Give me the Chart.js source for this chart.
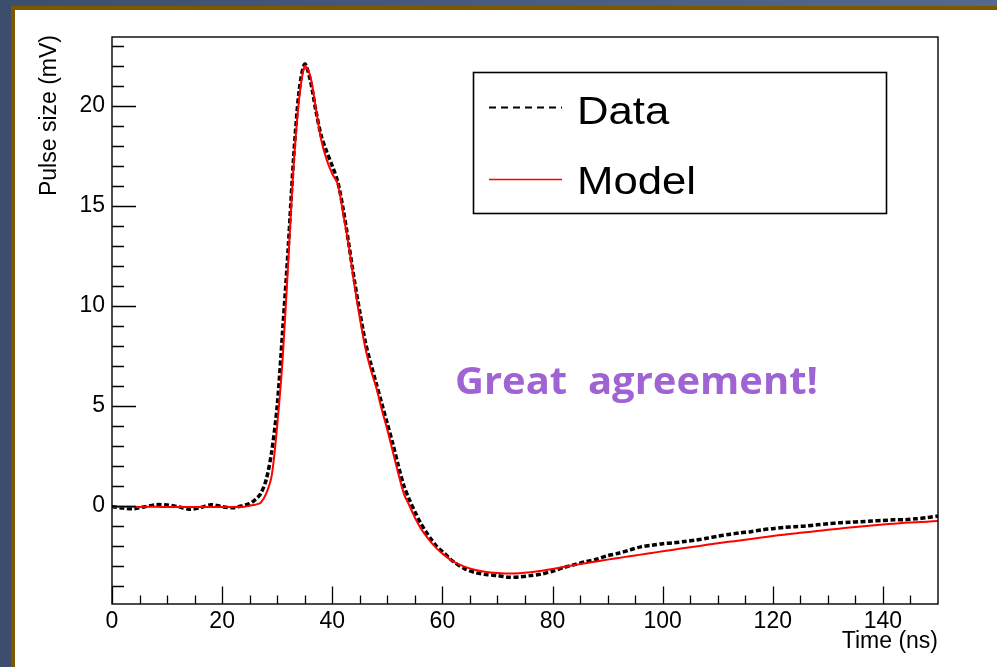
<!DOCTYPE html>
<html>
<head>
<meta charset="utf-8">
<title>Pulse size</title>
<script src="https://cdn.jsdelivr.net/npm/chart.js@4.4.0/dist/chart.umd.min.js"></script>
<style>
html, body { margin: 0; padding: 0; }
body {
    width: 997px; height: 667px; overflow: hidden; position: relative;
    background: linear-gradient(to right, #3d4e6d, #53698f);
}
#panel {
    position: absolute; left: 11px; top: 6px; width: 986px; height: 661px;
    box-sizing: border-box; background: #fff;
    border-left: 4px solid #7c5800; border-top: 4px solid #7c5800;
}
#pulseChart { position: absolute; left: 0; top: 0; }
</style>
</head>
<body>
<div id="panel"></div>
<canvas id="pulseChart" width="997" height="667"></canvas>
<script>
// values (time in ns, pulse in mV)
const times = [0, 2, 4, 6, 8, 10, 12, 14, 16, 18, 20, 22, 24,
    25, 26, 27, 28, 29, 30, 31, 32, 33, 34, 35, 36, 37, 38, 39, 40, 41, 42, 43, 44, 45,
    46, 47, 48, 49, 50, 51, 52, 53, 54, 55, 56, 57, 58, 59, 60,
    62, 64, 66, 68, 70, 72, 74, 76, 78, 80, 82, 84, 86, 88, 90, 92, 94, 96, 98, 100,
    102, 104, 106, 108, 110, 112, 114, 116, 118, 120, 122, 124, 126, 128, 130,
    132, 134, 136, 138, 140, 142, 144, 146, 148, 150];

const dataMv = [-0.05, -0.12, -0.15, -0.05, 0.05, 0.03, -0.05, -0.18, -0.1, 0.05, -0.05, -0.1, 0.02,
    0.1, 0.3, 0.6, 1.3, 2.7, 5.0, 8.8, 12.9, 17.5, 20.8, 22.1, 21.3, 19.8, 18.5, 17.7, 17.0, 16.2, 14.8, 13.1, 11.3, 9.7,
    8.2, 7.1, 6.1, 5.1, 4.1, 3.1, 2.0, 1.0, 0.3, -0.3, -0.85, -1.3, -1.7, -2.05, -2.3,
    -2.8, -3.15, -3.35, -3.45, -3.5, -3.58, -3.56, -3.5, -3.42, -3.28, -3.1, -2.95, -2.8, -2.68, -2.5, -2.38, -2.22, -2.06, -1.98, -1.9,
    -1.86, -1.79, -1.72, -1.63, -1.53, -1.44, -1.36, -1.3, -1.21, -1.15, -1.09, -1.05, -1.02, -0.96, -0.91,
    -0.86, -0.83, -0.8, -0.77, -0.74, -0.71, -0.7, -0.66, -0.6, -0.52];

const modelMv = [-0.05, -0.05, -0.06, -0.06, -0.06, -0.07, -0.07, -0.07, -0.07, -0.07, -0.07, -0.07, -0.06,
    0.0, 0.05, 0.15, 0.6, 1.5, 4.0, 7.4, 12.2, 17.1, 20.4, 22.0, 21.5, 19.9, 18.3, 17.3, 16.6, 16.1, 14.6, 13.0, 11.1, 9.4,
    7.9, 6.8, 5.9, 4.8, 3.8, 2.7, 1.6, 0.6, 0.0, -0.6, -1.1, -1.5, -1.85, -2.15, -2.4,
    -2.8, -3.05, -3.22, -3.32, -3.37, -3.4, -3.38, -3.33, -3.26, -3.17, -3.07, -2.97, -2.88, -2.79, -2.7, -2.62, -2.53, -2.45, -2.37, -2.28,
    -2.2, -2.12, -2.04, -1.96, -1.88, -1.81, -1.74, -1.67, -1.59, -1.52, -1.45, -1.39, -1.33, -1.27, -1.21,
    -1.15, -1.09, -1.04, -0.99, -0.94, -0.9, -0.86, -0.83, -0.8, -0.77];

const xTickValues = [0, 20, 40, 60, 80, 100, 120, 140];
const yTickValues = [0, 5, 10, 15, 20];
const seriesNames = ['Data', 'Model'];

const FONT = '"Liberation Sans", Arial, sans-serif';

// ROOT style frame: box plus inward ticks
const rootFrame = {
    id: 'rootFrame',
    afterDatasetsDraw(chart) {
        const { ctx, chartArea: a, scales: { x, y } } = chart;
        ctx.save();
        ctx.strokeStyle = '#000';
        ctx.lineWidth = 1.4;
        ctx.strokeRect(a.left, a.top, a.right - a.left, a.bottom - a.top);
        ctx.lineWidth = 1.3;
        ctx.beginPath();
        for (let v = 0; v < 150; v += 5) {
            const px = Math.round(x.getPixelForValue(v)) + 0.5;
            const len = v % 20 === 0 ? 17.5 : 8.5;
            ctx.moveTo(px, a.bottom);
            ctx.lineTo(px, a.bottom - len);
        }
        for (let v = -4; v <= 23; v++) {
            const py = Math.round(y.getPixelForValue(v)) + 0.5;
            const len = v % 5 === 0 ? 24 : 12;
            ctx.moveTo(a.left, py);
            ctx.lineTo(a.left + len, py);
        }
        ctx.stroke();
        ctx.restore();
    },
    afterDraw(chart) {
        const { ctx, chartArea: a } = chart;
        ctx.save();
        ctx.fillStyle = '#000';
        ctx.font = '23px ' + FONT;
        // axis titles, right aligned like ROOT
        ctx.textAlign = 'right';
        ctx.textBaseline = 'alphabetic';
        ctx.fillText('Time (ns)', a.right, 648);
        ctx.save();
        ctx.translate(56, 35);
        ctx.rotate(-Math.PI / 2);
        ctx.fillText('Pulse size (mV)', 0, 0);
        ctx.restore();

        // legend box
        ctx.fillStyle = '#fff';
        ctx.fillRect(473.5, 72.5, 413, 141);
        ctx.strokeStyle = '#000';
        ctx.lineWidth = 1.6;
        ctx.strokeRect(473.5, 72.5, 413, 141);
        ctx.lineWidth = 2.2;
        ctx.setLineDash([7, 5]);
        ctx.beginPath();
        ctx.moveTo(489, 107.5);
        ctx.lineTo(562, 107.5);
        ctx.stroke();
        ctx.setLineDash([]);
        ctx.strokeStyle = '#ff0000';
        ctx.lineWidth = 1.5;
        ctx.beginPath();
        ctx.moveTo(489, 179.5);
        ctx.lineTo(562, 179.5);
        ctx.stroke();
        ctx.fillStyle = '#000';
        ctx.textAlign = 'left';
        ctx.font = '38px ' + FONT;
        // the reference text is a bit stretched sideways
        ctx.save();
        ctx.translate(577, 0);
        ctx.scale(1.15, 1);
        ctx.fillText(seriesNames[0], 0, 124);
        ctx.fillText(seriesNames[1], 0, 194);
        ctx.restore();

        // annotation, fitted to the width it has in the picture
        const note = 'Great  agreement!';
        ctx.fillStyle = '#9f63d3';
        ctx.font = 'bold 38px "Open Sans", Lato, sans-serif';
        const w = ctx.measureText(note).width;
        ctx.save();
        ctx.translate(455, 394);
        ctx.scale(363 / w, 1);
        ctx.fillText(note, 0, 0);
        ctx.restore();
        ctx.restore();
    }
};

const ctx = document.getElementById('pulseChart').getContext('2d');
new Chart(ctx, {
    type: 'line',
    data: {
        labels: times,
        datasets: [{
            label: seriesNames[1],
            data: modelMv,
            borderColor: '#ff0000',
            borderWidth: 2,
            pointRadius: 0,
            tension: 0.3,
            fill: false,
            order: 0
        }, {
            label: seriesNames[0],
            data: dataMv,
            borderColor: '#000',
            borderWidth: 3.5,
            borderDash: [5, 2.5],
            pointRadius: 0,
            tension: 0.3,
            fill: false,
            order: 1
        }]
    },
    options: {
        responsive: false,
        animation: false,
        devicePixelRatio: 1,
        layout: { padding: { left: 0, top: 37, right: 59, bottom: 0 } },
        scales: {
            x: {
                type: 'linear',
                min: 0,
                max: 150,
                afterFit: (s) => { s.height = 63; },
                afterBuildTicks: (s) => { s.ticks = xTickValues.map(v => ({ value: v })); },
                grid: { display: false, drawTicks: false },
                border: { display: false },
                ticks: { color: '#000', padding: 4, maxRotation: 0, font: { family: FONT, size: 23 } }
            },
            y: {
                min: -4.92,
                max: 23.45,
                afterFit: (s) => { s.width = 112; },
                afterBuildTicks: (s) => { s.ticks = yTickValues.map(v => ({ value: v })); },
                grid: { display: false, drawTicks: false },
                border: { display: false },
                ticks: { color: '#000', padding: 7, font: { family: FONT, size: 23 } }
            }
        },
        plugins: {
            legend: { display: false },
            tooltip: { enabled: false }
        }
    },
    plugins: [rootFrame]
});
</script>
</body>
</html>
